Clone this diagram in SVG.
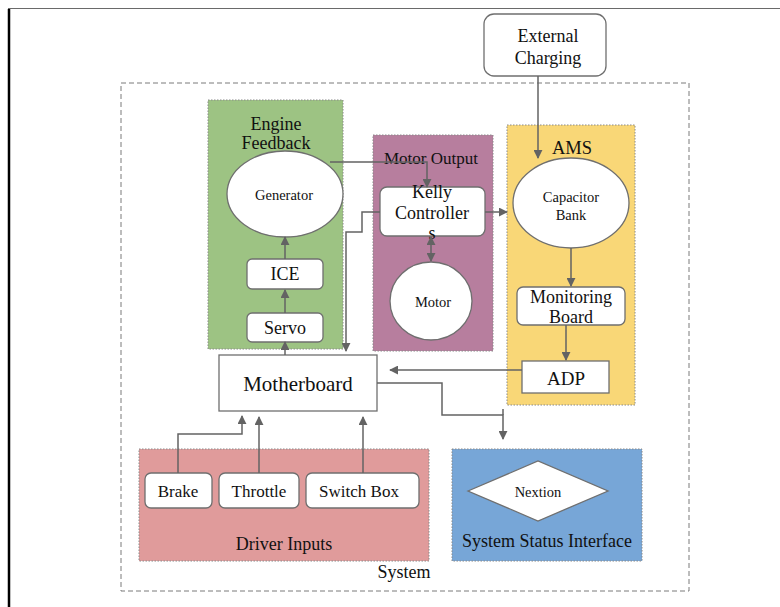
<svg xmlns="http://www.w3.org/2000/svg" width="780" height="607" viewBox="0 0 780 607" font-family="'Liberation Serif', 'DejaVu Serif', serif">
<defs>
<marker id="ah" viewBox="0 0 10 10" refX="9" refY="5" markerWidth="9" markerHeight="9" markerUnits="userSpaceOnUse" orient="auto-start-reverse">
<path d="M0,0 L10,5 L0,10 Z" fill="#636363"/>
</marker>
</defs>
<style>
text{font-family:'Liberation Serif','DejaVu Serif',serif;fill:#111;text-anchor:middle;dominant-baseline:central}
.grp{stroke:#8a8a8a;stroke-width:1;stroke-dasharray:1.5 1.5}
.box{fill:#fff;stroke:#6f6f6f;stroke-width:1.3}
.con{fill:none;stroke:#636363;stroke-width:1.5}
.t16{font-size:18px}
.t15{font-size:17px}
.t13{font-size:14.5px}
</style>
<rect width="780" height="607" fill="#fff"/>
<line x1="8" y1="8.5" x2="780" y2="8.5" stroke="#6a6a6a" stroke-width="1"/>
<line x1="9" y1="9" x2="9" y2="607" stroke="#000" stroke-width="2.5"/>

<g id="system">
<rect x="121" y="83" width="568" height="508" fill="none" stroke="#7a7a7a" stroke-width="1" stroke-dasharray="5 3"/>
<text x="404" y="572" class="t16">System</text>
</g>

<g id="external-charging">
<rect x="484" y="14" width="122" height="62" rx="10" class="box"/>
<text x="548" y="36" class="t16">External</text>
<text x="548" y="58" class="t16">Charging</text>
</g>

<g id="engine-feedback">
<rect x="208" y="100" width="135" height="249" fill="#9dc383" class="grp"/>
<text x="276" y="124" class="t16">Engine</text>
<text x="276" y="143" class="t16">Feedback</text>
</g>
<g id="generator">
<ellipse cx="285" cy="194" rx="58" ry="43" class="box"/>
<text x="284" y="195" class="t13">Generator</text>
</g>
<g id="ice">
<rect x="247" y="259" width="76" height="30" rx="5" class="box"/>
<text x="285" y="274" class="t16">ICE</text>
</g>
<g id="servo">
<rect x="247" y="313" width="76" height="29" rx="5" class="box"/>
<text x="285" y="328" class="t16">Servo</text>
</g>

<g id="motor-output">
<rect x="373" y="135" width="120" height="216" fill="#b77e9e" class="grp"/>
<text x="431" y="158" class="t15">Motor Output</text>
</g>
<g id="kelly-controller">
<rect x="380" y="187" width="105" height="49" rx="7" class="box"/>
<text x="432" y="192" class="t16">Kelly</text>
<text x="432" y="213" class="t16">Controller</text>
<text x="432" y="233" class="t16">s</text>
</g>
<g id="motor">
<ellipse cx="431" cy="301" rx="41" ry="39" class="box"/>
<text x="433" y="302" class="t13">Motor</text>
</g>

<g id="ams">
<rect x="507" y="125" width="128" height="280" fill="#f9d777" class="grp"/>
<text x="572" y="148" font-size="18.5">AMS</text>
</g>
<g id="capacitor-bank">
<ellipse cx="571" cy="203" rx="58" ry="45" class="box"/>
<text x="571" y="197" class="t13">Capacitor</text>
<text x="571" y="215" class="t13">Bank</text>
</g>
<g id="monitoring-board">
<rect x="517" y="287" width="108" height="38" rx="6" class="box"/>
<text x="571" y="297" class="t16">Monitoring</text>
<text x="571" y="317" class="t16">Board</text>
</g>
<g id="adp">
<rect x="522" y="361" width="87" height="32" class="box"/>
<text x="566" y="378" font-size="19">ADP</text>
</g>

<g id="motherboard">
<rect x="219" y="355" width="158" height="56" class="box"/>
<text x="298" y="384" font-size="21">Motherboard</text>
</g>

<g id="driver-inputs">
<rect x="139" y="449" width="290" height="112" fill="#e09b9b" class="grp"/>
<text x="284" y="544" class="t16">Driver Inputs</text>
</g>
<g id="brake">
<rect x="145" y="473" width="67" height="35" rx="6" class="box"/>
<text x="178" y="491" class="t15">Brake</text>
</g>
<g id="throttle">
<rect x="219" y="473" width="80" height="35" rx="6" class="box"/>
<text x="259" y="491" class="t15">Throttle</text>
</g>
<g id="switch-box">
<rect x="306" y="473" width="113" height="35" rx="6" class="box"/>
<text x="359" y="491" class="t15">Switch Box</text>
</g>

<g id="system-status-interface">
<rect x="452" y="449" width="190" height="112" fill="#77a6d7" class="grp"/>
<text x="547" y="541" class="t16">System Status Interface</text>
</g>
<g id="nextion">
<polygon points="468,491 538,461 608,491 538,521" fill="#fff" stroke="#6f6f6f" stroke-width="1.3"/>
<text x="538" y="492" class="t13">Nextion</text>
</g>

<g id="connectors">
<path class="con" d="M538,76 V158" marker-end="url(#ah)"/>
<path class="con" d="M285,313 V290" marker-end="url(#ah)"/>
<path class="con" d="M285,259 V237" marker-end="url(#ah)"/>
<path class="con" d="M330,162 H427 V187" marker-end="url(#ah)"/>
<path class="con" d="M485,212 H507" marker-end="url(#ah)"/>
<path class="con" d="M380,212 H362 V232 H346 V351" marker-end="url(#ah)"/>
<path class="con" d="M431,237 V261" marker-start="url(#ah)" marker-end="url(#ah)"/>
<path class="con" d="M285,355 V342" marker-end="url(#ah)"/>
<path class="con" d="M571,248 V286" marker-end="url(#ah)"/>
<path class="con" d="M566,325 V360" marker-end="url(#ah)"/>
<path class="con" d="M522,370 H390" marker-end="url(#ah)"/>
<path class="con" d="M377,383 H442 V415 H503 V439" marker-end="url(#ah)"/>
<path class="con" d="M503,409 V415"/>
<path class="con" d="M178,473 V434 H242 V416" marker-end="url(#ah)"/>
<path class="con" d="M259,473 V417" marker-end="url(#ah)"/>
<path class="con" d="M363,473 V417" marker-end="url(#ah)"/>
</g>
</svg>
